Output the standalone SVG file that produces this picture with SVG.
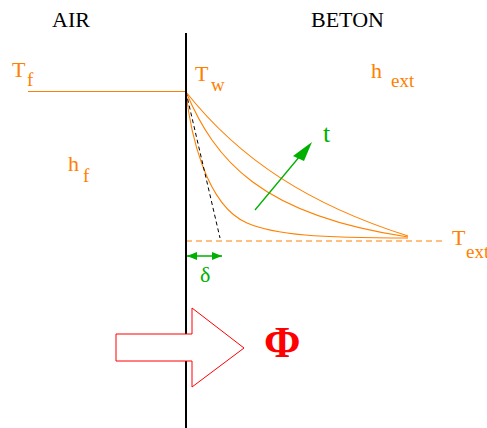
<svg xmlns="http://www.w3.org/2000/svg" width="487" height="428" viewBox="0 0 487 428">
<style>
text{font-family:"Liberation Serif","Times New Roman",serif}
.lbl{font-size:22px}
.sub{font-size:19px}
.or{fill:#ff8000}
.orl{fill:none;stroke:#ff8000;stroke-width:1.1}
.gr{fill:#00b000}
</style>
<defs>
<marker id="ga" viewBox="0 0 10 8" refX="10" refY="4" markerWidth="10" markerHeight="8" markerUnits="userSpaceOnUse" orient="auto-start-reverse"><path d="M0,0 L10,4 L0,8 Z" fill="#00b000"/></marker>
</defs>
<rect width="487" height="428" fill="#fff"/>
<g id="labels">
<text class="lbl" x="52" y="27">AIR</text>
<text class="lbl" x="311" y="27">BETON</text>
</g>
<g id="curves">
<line x1="28" y1="91.5" x2="186" y2="91.5" class="orl"/>
<line x1="186" y1="241" x2="445" y2="241" class="orl" stroke-dasharray="6 4"/>
<path class="orl" d="M186,92 C240,160 310,205 408,236"/>
<path class="orl" d="M186,92 C215,160 260,215 408,237"/>
<path class="orl" d="M186,92 C190,130 205,205 247,223 C275,235 320,238 408,238"/>
<line x1="186" y1="92" x2="220" y2="238" stroke="#000" stroke-width="1" stroke-dasharray="4 3"/>
</g>
<g id="wall">
<line x1="186" y1="33" x2="186" y2="428" stroke="#000" stroke-width="2"/>
</g>
<g id="time-arrow">
<line x1="255" y1="210" x2="300" y2="156" stroke="#00b000" stroke-width="1.3"/>
<polygon points="312,142 293,156 304,161" fill="#00b000"/>
<text class="gr" x="323" y="142" font-size="26">t</text>
</g>
<g id="delta">
<line x1="187" y1="256" x2="222" y2="256" stroke="#00b000" stroke-width="1.3" marker-start="url(#ga)" marker-end="url(#ga)"/>
<text class="gr lbl" x="200" y="282">δ</text>
</g>
<g id="flux">
<polygon points="116,334 192,334 192,308 244,348 192,387 192,361 116,361" fill="#fff" stroke="#ff0000" stroke-width="1"/>
<text x="264" y="357" font-size="44" font-weight="bold" fill="#ff0000">Φ</text>
</g>
<g id="temps">
<text class="or"><tspan class="lbl" x="12" y="77">T</tspan><tspan class="sub" x="27" y="86">f</tspan></text>
<text class="or"><tspan class="lbl" x="195" y="81">T</tspan><tspan class="sub" x="211" y="91">w</tspan></text>
<text class="or"><tspan class="lbl" x="371" y="78">h</tspan><tspan class="sub" x="391" y="87">ext</tspan></text>
<text class="or"><tspan class="lbl" x="68" y="171">h</tspan><tspan class="sub" x="83" y="182">f</tspan></text>
<text class="or"><tspan class="lbl" x="452" y="245">T</tspan><tspan class="sub" x="466" y="258">ext</tspan></text>
</g>
</svg>
